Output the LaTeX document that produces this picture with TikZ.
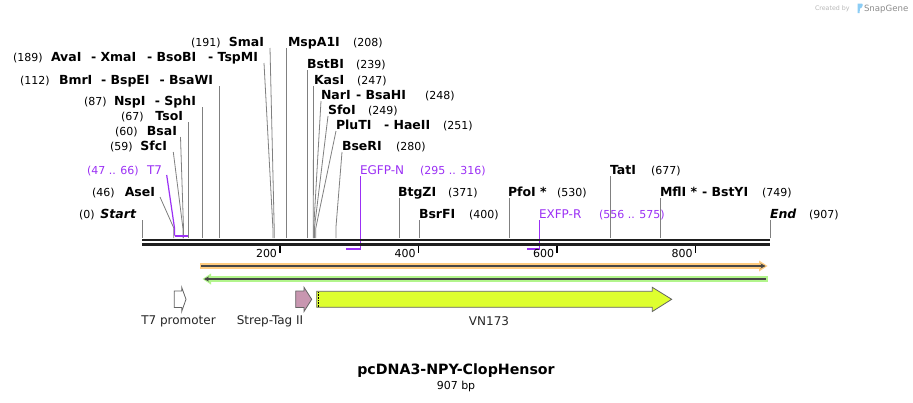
\documentclass[tikz,border=0pt]{standalone}
\usepackage{fontspec}
\setmainfont{DejaVu Sans}[BoldFont={DejaVu Sans Bold},ItalicFont={DejaVu Sans Oblique},BoldItalicFont={DejaVu Sans Bold Oblique}]
\usetikzlibrary{calc,arrows.meta}
\definecolor{prim}{RGB}{155,48,245}
\definecolor{cutc}{RGB}{128,128,128}
\definecolor{orangeband}{RGB}{255,204,128}
\definecolor{greenband}{RGB}{178,245,140}
\definecolor{darkline}{RGB}{70,70,70}
\definecolor{vnfill}{RGB}{222,255,47}
\definecolor{strepfill}{RGB}{200,150,176}
\definecolor{featdraw}{RGB}{100,100,100}
\definecolor{logoblue}{RGB}{140,205,245}
\newcommand\mksite[2]{\coordinate (#1k) at (#2,228); \coordinate (#1b) at (#2,238);}
\begin{document}
\begin{tikzpicture}[x=1pt,y=-1pt,
  every node/.style={inner sep=0pt,outer sep=0pt},
  num/.style={font=\fontsize{11}{13}\selectfont},
  enz/.style={font=\fontsize{12.5}{14}\selectfont\bfseries},
  enzit/.style={font=\fontsize{12.5}{14}\selectfont\bfseries\itshape},
  primn/.style={text=prim,font=\fontsize{12}{14}\selectfont},
  primnum/.style={text=prim,font=\fontsize{11}{13}\selectfont},
  cut/.style={draw=cutc,line width=0.8pt},
  primline/.style={draw=prim,line width=1.2pt},
  primbar/.style={draw=prim,line width=2pt},
  tick/.style={draw=black,line width=1.6pt},
  feat/.style={draw=featdraw,line width=0.8pt,line join=miter},
  flabel/.style={font=\fontsize{12}{14}\selectfont,text=black!85}]
\useasboundingbox (0,0) rectangle (913,402);
\fill[white] (0,0) rectangle (913,402);

% sites
\mksite{s0}{142}
\mksite{s46}{173.8}
\mksite{s59}{182.9}
\mksite{s60}{183.5}
\mksite{s67}{188.4}
\mksite{s87}{202.2}
\mksite{s112}{219.5}
\mksite{s189}{272.9}
\mksite{s191}{274.2}
\mksite{s208}{286}
\mksite{s239}{307.5}
\mksite{s247}{313.3}
\mksite{s248}{313.7}
\mksite{s249}{314.4}
\mksite{s251}{315.8}
\mksite{s280}{335.9}
\mksite{s371}{398.9}
\mksite{s400}{419}
\mksite{s530}{509}
\mksite{s677}{610.8}
\mksite{s749}{660.6}
\mksite{s907}{770}

% ---- labels ----
% row 42
\node[num,anchor=base west] (n191) at (191,46) {(191)};
\node[enz,anchor=base east] (smaI) at (264,46) {SmaI};
\node[enz,anchor=base west] (mspA1I) at (288,46) {MspA1I};
\node[num,anchor=base west] (n208) at (353,46) {(208)};
% row 57
\node[num,anchor=base west] (n189) at (13,61) {(189)};
\node[enz,anchor=base west] (avaI) at (51,61) {AvaI};
\node[enz,anchor=base west] (xmaI) at (91,61) {- XmaI};
\node[enz,anchor=base west] (bsoBI) at (147,61) {- BsoBI};
\node[enz,anchor=base east] (tspMI) at (258,61) {- TspMI};
% row 64
\node[enz,anchor=base west] (bstBI) at (307,68) {BstBI};
\node[num,anchor=base west] (n239) at (356,68) {(239)};
% row 80
\node[num,anchor=base west] (n112) at (20,84) {(112)};
\node[enz,anchor=base west] (bmrI) at (59,84) {BmrI};
\node[enz,anchor=base west] (bspEI) at (101,84) {- BspEI};
\node[enz,anchor=base east] (bsaWI) at (213,84) {- BsaWI};
\node[enz,anchor=base west] (kasI) at (314,84) {KasI};
\node[num,anchor=base west] (n247) at (357,84) {(247)};
% row 95
\node[enz,anchor=base west] (narI) at (321,99) {NarI};
\node[enz,anchor=base west] (bsaHI) at (356,99) {- BsaHI};
\node[num,anchor=base west] (n248) at (425,99) {(248)};
% row 101
\node[num,anchor=base west] (n87) at (84,105) {(87)};
\node[enz,anchor=base west] (nspI) at (114,105) {NspI};
\node[enz,anchor=base east] (sphI) at (196,105) {- SphI};
% row 110
\node[enz,anchor=base west] (sfoI) at (328,114) {SfoI};
\node[num,anchor=base west] (n249) at (368,114) {(249)};
% row 116
\node[num,anchor=base west] (n67) at (121,120) {(67)};
\node[enz,anchor=base east] (tsoI) at (183,120) {TsoI};
% row 125
\node[enz,anchor=base west] (pluTI) at (336,129) {PluTI};
\node[enz,anchor=base west] (haeII) at (384,129) {- HaeII};
\node[num,anchor=base west] (n251) at (443,129) {(251)};
% row 131
\node[num,anchor=base west] (n60) at (115,135) {(60)};
\node[enz,anchor=base east] (bsaI) at (177,135) {BsaI};
% row 146
\node[num,anchor=base west] (n59) at (110,150) {(59)};
\node[enz,anchor=base east] (sfcI) at (167,150) {SfcI};
\node[enz,anchor=base west] (bseRI) at (342,150) {BseRI};
\node[num,anchor=base west] (n280) at (396,150) {(280)};
% row 170
\node[primnum,anchor=base west] (n4766) at (87,174) {(47 .. 66)};
\node[primn,anchor=base east] (t7) at (162,174) {T7};
\node[primn,anchor=base west] (egfpN) at (360,174) {EGFP-N};
\node[primnum,anchor=base west] (n295) at (420,174) {(295 .. 316)};
\node[enz,anchor=base west] (tatI) at (610,174) {TatI};
\node[num,anchor=base west] (n677) at (651,174) {(677)};
% row 192
\node[num,anchor=base west] (n46) at (92,196) {(46)};
\node[enz,anchor=base east] (aseI) at (155,196) {AseI};
\node[enz,anchor=base west] (btgZI) at (398,196) {BtgZI};
\node[num,anchor=base west] (n371) at (448,196) {(371)};
\node[enz,anchor=base west] (pfoI) at (508,196) {PfoI *};
\node[num,anchor=base west] (n530) at (557,196) {(530)};
\node[enz,anchor=base west] (mflI) at (660,196) {MflI *};
\node[enz,anchor=base west] (bstYI) at (702,196) {- BstYI};
\node[num,anchor=base west] (n749) at (762,196) {(749)};
% row 214
\node[num,anchor=base west] (n0) at (79,218) {(0)};
\node[enzit,anchor=base east] (startN) at (136,218) {Start};
\node[enz,anchor=base west] (bsrFI) at (419,218) {BsrFI};
\node[num,anchor=base west] (n400) at (469,218) {(400)};
\node[primn,anchor=base west] (exfpR) at (539,218) {EXFP-R};
\node[primnum,anchor=base west] (n556) at (599,218) {(556 .. 575)};
\node[enzit,anchor=base west] (endN) at (770,218) {End};
\node[num,anchor=base west] (n907) at (809,218) {(907)};

% ---- cut-site lines ----
\draw[cut] ($(startN.base east)+(6,2)$) -- (s0b);
\draw[cut] ($(aseI.base east)+(5,1)$) -- (s46k) -- (s46b);
\draw[cut] ($(sfcI.base east)+(6.3,2)$) -- (s59k) -- (s59b);
\draw[cut] ($(bsaI.base east)+(3.5,2)$) -- (s60k) -- (s60b);
\draw[cut] ($(tsoI.base east)+(5.4,2)$) -- (s67b);
\draw[cut] ($(sphI.base east)+(6.2,2)$) -- (s87b);
\draw[cut] ($(bsaWI.base east)+(6.5,2)$) -- (s112b);
\draw[cut] ($(tspMI.base east)+(6,2)$) -- (s189k) -- (s189b);
\draw[cut] ($(smaI.base east)+(6,2)$) -- (s191k) -- (s191b);
\draw[cut] ($(mspA1I.base west)+(-2,2)$) -- (s208b);
\draw[cut] ($(bstBI.base west)+(0.5,2)$) -- (s239b);
\draw[cut] ($(kasI.base west)+(-0.5,2)$) -- (s247k) -- (s247b);
\draw[cut] ($(narI.base west)+(0,2)$) -- (s248k) -- (s248b);
\draw[cut] ($(sfoI.base west)+(0,2)$) -- (s249k) -- (s249b);
\draw[cut] ($(pluTI.base west)+(0,2)$) -- (s251k) -- (s251b);
\draw[cut] ($(bseRI.base west)+(0,2)$) -- (s280k) -- (s280b);
\draw[cut] ($(btgZI.base west)+(0.9,2)$) -- (s371b);
\draw[cut] ($(bsrFI.base west)+(0,2)$) -- (s400b);
\draw[cut] ($(pfoI.base west)+(1,2)$) -- (s530b);
\draw[cut] ($(tatI.base west)+(0.8,2)$) -- (s677b);
\draw[cut] ($(mflI.base west)+(0.6,2)$) -- (s749b);
\draw[cut] ($(endN.base west)+(0,2)$) -- (s907b);

% ---- primers ----
\coordinate (t7k) at (174.5,228);
\coordinate (t7a) at (174.5,235.7);
\coordinate (t7e) at (187.7,235.7);
\draw[primline] ($(t7.base east)+(4.7,1)$) -- (t7k) -- (t7a);
\draw[primbar] (t7a) -- (t7e);
\coordinate (egA) at (360.8,248.5);
\coordinate (egB) at (346.3,248.5);
\draw[primline] ($(egfpN.base west)+(0.8,2)$) -- (egA);
\draw[primbar] (egA) -- (egB);
\coordinate (exA) at (539.5,249);
\coordinate (exB) at (527,249);
\draw[primline] ($(exfpR.base west)+(0.5,2)$) -- (exA);
\draw[primbar] (exA) -- (exB);

% ---- backbone ----
\coordinate (bbL) at (142,240);
\coordinate (bbR) at (770,240);
\draw[line width=2.6pt,black!88] (bbL) -- (bbR);
\draw[line width=2.6pt,black!88] ($(bbL)+(0,4.2)$) -- ($(bbR)+(0,4.2)$);

% ---- ticks ----
\foreach \x/\l in {280/200,418.5/400,557/600,695.5/800}{
  \draw[tick] (\x,246) -- (\x,252.5);
  \node[num,anchor=base east] (tk\l) at (\x-3,257) {\l};
}

% ---- feature bars ----
\fill[orangeband] (200,263.4) rectangle (761,268.6);
\fill[orangeband] (759,260.5) -- (767.5,266) -- (759,271.5) -- cycle;
\coordinate (orA) at (201,266);
\coordinate (orB) at (765.5,266);
\draw[darkline,line width=1.4pt,-{Stealth[length=5pt,width=5pt]}] (orA) -- (orB);

\fill[greenband] (209,276.4) rectangle (767.5,281.6);
\fill[greenband] (211,273.5) -- (202.5,279) -- (211,284.5) -- cycle;
\coordinate (grA) at (765.5,279);
\coordinate (grB) at (204,279);
\draw[darkline,line width=1.4pt,-{Stealth[length=5pt,width=5pt]}] (grA) -- (grB);

% ---- features ----
\draw[feat,fill=white] (174.3,291) -- (181.7,291) -- (181.7,287.3) -- (186,299.3) -- (181.7,311.5) -- (181.7,307.5) -- (174.3,307.5) -- cycle;
\draw[feat,fill=strepfill] (295.7,291) -- (304,291) -- (304,287.3) -- (311.7,299.3) -- (304,311.5) -- (304,307.5) -- (295.7,307.5) -- cycle;
\draw[feat,fill=vnfill] (316.7,291.3) -- (652.3,291.3) -- (652.3,287.3) -- (671.7,299.3) -- (652.3,311.5) -- (652.3,307.3) -- (316.7,307.3) -- cycle;
\draw[black,line width=0.7pt,dash pattern=on 0.8pt off 0.8pt] (318.4,292) -- (318.4,306.8);

\node[flabel] (lt7) at (178.5,321) {T7 promoter};
\node[flabel] (lstrep) at (270,321) {Strep-Tag II};
\node[flabel] (lvn) at (489,321) {VN173};

% ---- title ----
\node[font=\fontsize{14.2}{16}\selectfont\bfseries] (title) at (456,371) {pcDNA3-NPY-ClopHensor};
\node[num,anchor=north] (bp) at (456,381) {907 bp};

% ---- logo ----
\node[anchor=base west,text=black!28,font=\fontsize{6.3}{7}\selectfont] (cby) at (815,10.5) {Created by};
\fill[logoblue] (857.5,3.5) -- (862,3.5) .. controls (863,3.5) and (863,8) .. (860,8.5) -- (859.5,13) -- (857.5,13) -- cycle;
\node[anchor=base west,text=black!45,font=\fontsize{8.6}{10}\selectfont] (sg) at (864,11) {SnapGene};
\end{tikzpicture}
\end{document}
